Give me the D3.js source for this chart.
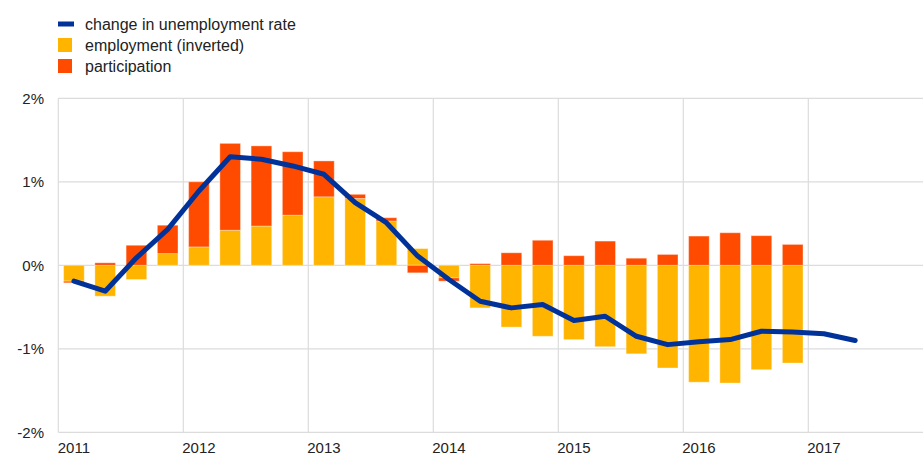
<!DOCTYPE html>
<html>
<head>
<meta charset="utf-8">
<script src="https://cdn.jsdelivr.net/npm/d3@7"></script>
<style>
    body { margin: 0; background: #fff; }
    svg { display: block; font-family: "Liberation Sans", Arial, sans-serif; }
    .grid line { stroke: #dcdcdc; stroke-width: 1.2; }
    .tick-label { fill: #222; font-size: 15px; }
    .legend text { fill: #222; font-size: 16px; }
</style>
</head>
<body>
<svg id="chart-svg" width="923" height="457"></svg>
<script>
// quarterly decomposition, percentage points
const barQuarters = ["2011Q1", "2011Q2", "2011Q3", "2011Q4", "2012Q1", "2012Q2", "2012Q3", "2012Q4",
    "2013Q1", "2013Q2", "2013Q3", "2013Q4", "2014Q1", "2014Q2", "2014Q3", "2014Q4",
    "2015Q1", "2015Q2", "2015Q3", "2015Q4", "2016Q1", "2016Q2", "2016Q3", "2016Q4"];
const employment = [-0.19, -0.37, -0.17, 0.14, 0.22, 0.42, 0.47, 0.60, 0.82, 0.80, 0.53, 0.20,
    -0.15, -0.51, -0.74, -0.85, -0.89, -0.975, -1.06, -1.23, -1.40, -1.41, -1.25, -1.17];
const participation = [-0.02, 0.03, 0.24, 0.34, 0.78, 1.04, 0.96, 0.76, 0.43, 0.05, 0.04, -0.09,
    -0.04, 0.02, 0.15, 0.30, 0.115, 0.29, 0.085, 0.13, 0.35, 0.39, 0.355, 0.25];

const lineQuarters = barQuarters.concat(["2017Q1", "2017Q2"]);
const unemploymentChange = [-0.19, -0.31, 0.09, 0.43, 0.89, 1.30, 1.27, 1.19, 1.09, 0.75, 0.51, 0.11,
    -0.17, -0.43, -0.51, -0.47, -0.66, -0.61, -0.85, -0.95, -0.915, -0.89, -0.79, -0.80, -0.82, -0.90];

const yearTicks = [2011, 2012, 2013, 2014, 2015, 2016, 2017];
const valueTicks = [-2, -1, 0, 1, 2];

const legendItems = [
    {label: "change in unemployment rate", color: "#003299", kind: "line"},
    {label: "employment (inverted)", color: "#ffb400", kind: "box"},
    {label: "participation", color: "#ff4b00", kind: "box"}
];

// "2013Q2" -> middle of that quarter as a fractional year
const quarterMid = q => +q.slice(0, 4) + (+q.slice(5) - 0.5) / 4;

const svg = d3.select("#chart-svg");

const x = d3.scaleLinear().domain([2011, 2018]).range([58.3, 933.3]);
const y = d3.scaleLinear().domain([-2, 2]).range([432.3, 98.3]);
const barWidth = (x(2011.25) - x(2011)) * 0.66;

// gridlines
const grid = svg.append("g").attr("class", "grid");
grid.selectAll(".h")
    .data(valueTicks)
    .join("line")
    .attr("x1", x.range()[0]).attr("x2", x.range()[1])
    .attr("y1", d => y(d)).attr("y2", d => y(d));
grid.selectAll(".v")
    .data(yearTicks)
    .join("line")
    .attr("x1", d => x(d)).attr("x2", d => x(d))
    .attr("y1", y(2)).attr("y2", y(-2));

// stacked bars, employment next to zero and participation beyond it
const rows = barQuarters.map((q, i) => ({q: q, employment: employment[i], participation: participation[i]}));
const stack = d3.stack()
    .keys(["employment", "participation"])
    .offset(d3.stackOffsetDiverging);
const colors = {employment: "#ffb400", participation: "#ff4b00"};

svg.append("g").selectAll("g")
    .data(stack(rows))
    .join("g")
    .attr("fill", d => colors[d.key])
    .selectAll("rect")
    .data(d => d)
    .join("rect")
    .attr("x", d => x(quarterMid(d.data.q)) - barWidth / 2)
    .attr("width", barWidth)
    .attr("y", d => y(Math.max(d[0], d[1])))
    .attr("height", d => Math.abs(y(d[0]) - y(d[1])))
    .attr("stroke", "#fff")
    .attr("stroke-opacity", 0.35)
    .attr("stroke-width", 1);

// unemployment rate line
const line = d3.line()
    .x((d, i) => x(quarterMid(lineQuarters[i])))
    .y(d => y(d));

svg.append("path")
    .datum(unemploymentChange)
    .attr("d", line)
    .attr("fill", "none")
    .attr("stroke", "#003299")
    .attr("stroke-width", 5)
    .attr("stroke-linejoin", "round")
    .attr("stroke-linecap", "round");

// axis labels
svg.append("g").selectAll("text")
    .data(valueTicks)
    .join("text")
    .attr("class", "tick-label")
    .attr("x", 44)
    .attr("y", d => y(d))
    .attr("dy", "0.36em")
    .attr("text-anchor", "end")
    .text(d => d + "%");

svg.append("g").selectAll("text")
    .data(yearTicks)
    .join("text")
    .attr("class", "tick-label")
    .attr("x", d => x(d + 0.125))
    .attr("y", 453)
    .attr("text-anchor", "middle")
    .text(d => d);

// legend
const legend = svg.append("g").attr("class", "legend");
const item = legend.selectAll("g")
    .data(legendItems)
    .join("g")
    .attr("transform", (d, i) => `translate(58, ${24 + i * 21})`);

item.append("rect")
    .attr("x", 0)
    .attr("y", d => d.kind === "line" ? -2.5 : -7)
    .attr("width", d => d.kind === "line" ? 16 : 14)
    .attr("height", d => d.kind === "line" ? 5 : 14)
    .attr("fill", d => d.color);

item.append("text")
    .attr("x", 27)
    .attr("dy", "0.36em")
    .text(d => d.label);
</script>
</body>
</html>
